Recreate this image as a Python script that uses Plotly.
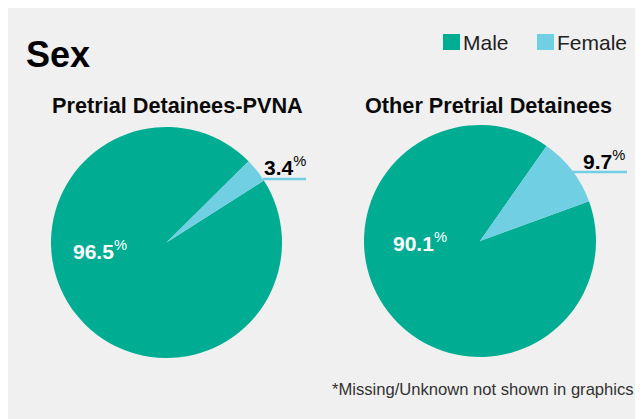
import plotly.graph_objects as go

# ---- data ----
categories = ["Male", "Female"]
groups = ["Pretrial Detainees-PVNA", "Other Pretrial Detainees"]
pvna_values = [96.5, 3.4]
other_values = [90.1, 9.7]
colors = ["#00ad93", "#70cfe3"]
title_text = "Sex"
footnote = "*Missing/Unknown not shown in graphics"

# page has an 8px body margin; work in screen coordinates and convert
OFF = 8
W, H = 643 - OFF, 419 - OFF
FONT = "Liberation Sans, Arial, Helvetica, sans-serif"
BG = "#f0f0f0"


def fx(x):
    return (x - OFF) / W


def fy(y):
    return 1 - (y - OFF) / H


fig = go.Figure()

pies = [
    dict(values=pvna_values, box=(51, 127, 282, 358), rotation=57.5),
    dict(values=other_values, box=(364, 125, 596, 357), rotation=70),
]
for g, p in zip(groups, pies):
    x0, y0, x1, y1 = p["box"]
    fig.add_trace(go.Pie(
        labels=categories, values=p["values"], name=g,
        sort=False, direction="clockwise", rotation=p["rotation"],
        marker=dict(colors=colors, line=dict(width=0)),
        textinfo="none", hoverinfo="label+percent",
        domain=dict(x=[fx(x0), fx(x1)], y=[fy(y1), fy(y0)]),
        showlegend=False,
    ))

ann = []
shapes = []

# title
ann.append(dict(text=f"<b>{title_text}</b>", x=fx(24), y=fy(55), xanchor="left", yanchor="middle",
                font=dict(size=36, color="#000", family=FONT)))

# subplot titles
for g, cx in zip(groups, [177.5, 488]):
    ann.append(dict(text=f"<b>{g}</b>", x=fx(cx), y=fy(105), xanchor="center", yanchor="middle",
                    font=dict(size=21.7, color="#0a0a0a", family=FONT)))

# legend
for cat, col, sx in zip(categories, colors, [443, 537]):
    shapes.append(dict(type="rect", xref="paper", yref="paper", x0=fx(sx), x1=fx(sx + 17),
                       y0=fy(50), y1=fy(34), fillcolor=col, line=dict(width=0)))
    ann.append(dict(text=cat, x=fx(sx + 18), y=fy(42), xanchor="left", yanchor="middle",
                    font=dict(size=21, color="#222", family=FONT)))

# value labels
male_pos = [(71, 250), (391, 242)]
female_pos = [(262, 166), (581, 160)]
female_lines = [(263, 306, 179), (572, 627, 172)]
for vals, mp, fp, fl in zip([pvna_values, other_values], male_pos, female_pos, female_lines):
    ann.append(dict(text=f"<b>{vals[0]}</b><sup>%</sup>", x=fx(mp[0]), y=fy(mp[1]),
                    xanchor="left", yanchor="middle",
                    font=dict(size=21, color="#ffffff", family=FONT)))
    ann.append(dict(text=f"<b>{vals[1]}</b><sup>%</sup>", x=fx(fp[0]), y=fy(fp[1]),
                    xanchor="left", yanchor="middle",
                    font=dict(size=21, color="#000000", family=FONT)))
    shapes.append(dict(type="line", xref="paper", yref="paper", x0=fx(fl[0]), x1=fx(fl[1]),
                       y0=fy(fl[2]), y1=fy(fl[2]), line=dict(color=colors[1], width=2.5)))

# footnote
ann.append(dict(text=footnote, x=fx(636), y=fy(389), xanchor="right", yanchor="middle",
                font=dict(size=16.6, color="#333", family=FONT)))

for a in ann:
    a.update(xref="paper", yref="paper", showarrow=False)

fig.update_layout(
    width=W, height=H,
    margin=dict(l=0, r=0, t=0, b=0),
    paper_bgcolor=BG,
    plot_bgcolor=BG,
    annotations=ann,
    shapes=shapes,
    showlegend=False,
)

fig.write_html("out.html")
